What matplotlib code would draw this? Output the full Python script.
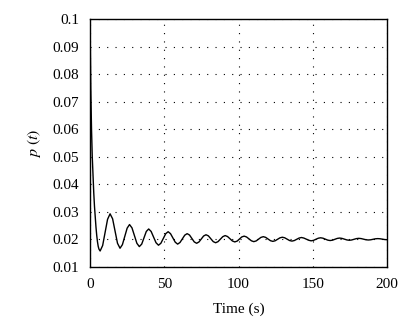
import matplotlib
matplotlib.use("Agg")
import matplotlib.pyplot as plt

time_s = [
    0.0, 0.5, 1.0, 1.5, 2.0, 2.5, 3.0, 3.5, 4.0, 4.5, 5.0, 5.5, 6.0, 6.8,
    8.5, 10.15, 11.8, 13.5,
    15.2, 16.85, 18.5, 20.2,
    21.8, 23.4, 25.0, 26.6,
    28.25, 29.9, 31.55, 33.2,
    34.8, 36.35, 37.9, 39.5,
    41.15, 42.8, 44.45, 46.1,
    47.7, 49.35, 51.0, 52.6,
    54.2, 55.8, 57.4, 59.0,
    60.6, 62.2, 63.8, 65.4,
    67.0, 68.6, 70.2, 71.8,
    73.4, 74.95, 76.5, 78.1,
    79.7, 81.35, 83.0, 84.6,
    86.2, 87.8, 89.4, 91.0,
    92.6, 94.25, 95.9, 97.5,
    99.1, 100.65, 102.2, 103.8,
    105.4, 107.05, 108.7, 110.3,
    111.9, 113.5, 115.1, 116.7,
    118.3, 119.9, 121.5, 123.1,
    124.7, 126.3, 127.9, 129.5,
    131.1, 132.75, 134.4, 136.0,
    137.6, 139.2, 140.8, 142.4,
    144.0, 145.65, 147.3, 148.9,
    150.5, 152.1, 153.7, 155.3,
    156.9, 158.5, 160.1, 161.7,
    163.3, 164.9, 166.5, 168.1,
    169.7, 171.35, 173.0, 174.6,
    176.2, 177.8, 179.4, 181.0,
    182.6, 184.2, 185.8, 187.4,
    189.0, 190.6, 192.2, 193.8,
    195.35, 196.9, 198.45, 200.0,
]

p_values = [
    0.1, 0.075, 0.060, 0.050, 0.043, 0.037, 0.032, 0.028, 0.0245, 0.0215, 0.0192, 0.0175, 0.0165, 0.0158,
    0.0178, 0.02255, 0.0273, 0.0293,
    0.0275, 0.02305, 0.0186, 0.0168,
    0.0181, 0.0211, 0.0241, 0.0254,
    0.0242, 0.0214, 0.0186, 0.0174,
    0.0183, 0.0206, 0.0229, 0.0238,
    0.0229, 0.02085, 0.0188, 0.0179,
    0.0186, 0.02035, 0.0221, 0.0228,
    0.0221, 0.02055, 0.0190, 0.0183,
    0.0189, 0.0202, 0.02155, 0.0221,
    0.0216, 0.02035, 0.0191, 0.0186,
    0.0191, 0.02015, 0.02125, 0.0217,
    0.0213, 0.02025, 0.0192, 0.0188,
    0.0192, 0.0201, 0.0210, 0.0214,
    0.02106, 0.02025, 0.01944, 0.0191,
    0.0194, 0.02015, 0.0209, 0.0212,
    0.0209, 0.0202, 0.0195, 0.0192,
    0.01946, 0.0201, 0.02074, 0.0210,
    0.02075, 0.02015, 0.01955, 0.0193,
    0.01952, 0.02005, 0.02058, 0.0208,
    0.0206, 0.0201, 0.0196, 0.0194,
    0.0196, 0.02005, 0.0205, 0.0207,
    0.0205, 0.0201, 0.0197, 0.0195,
    0.01966, 0.02005, 0.02044, 0.0206,
    0.02045, 0.0201, 0.01975, 0.0196,
    0.01973, 0.02005, 0.02037, 0.0205,
    0.02038, 0.0201, 0.01982, 0.0197,
    0.0198, 0.02005, 0.0203, 0.0204,
    0.02031, 0.0201, 0.01989, 0.0198,
    0.01987, 0.02005, 0.02023, 0.0203,
    0.02024, 0.0201, 0.01996, 0.0199,
]

x_ticks = [0, 50, 100, 150, 200]
y_ticks = [0.01, 0.02, 0.03, 0.04, 0.05, 0.06, 0.07, 0.08, 0.09, 0.1]
y_tick_labels = ["0.01", "0.02", "0.03", "0.04", "0.05", "0.06", "0.07", "0.08", "0.09", "0.1"]

plt.rcParams["font.family"] = ["Liberation Serif", "DejaVu Serif"]
plt.rcParams["mathtext.fontset"] = "stix"

fig = plt.figure(figsize=(4.13, 3.24), dpi=100)
ax = fig.add_axes([0.218, 0.176, 0.719, 0.765])

ax.plot(time_s, p_values, color="black", linewidth=1.0)

ax.set_xlim(0, 200)
ax.set_ylim(0.01, 0.1)
ax.set_xticks(x_ticks)
ax.set_xticklabels([str(v) for v in x_ticks])
ax.set_yticks(y_ticks)
ax.set_yticklabels(y_tick_labels)

ax.grid(True, color="black", linestyle=(0, (1, 6.5)), linewidth=0.8)
ax.tick_params(direction="in", length=0, labelsize=11, pad=8)
for s in ax.spines.values():
    s.set_linewidth(1.0)

ax.set_xlabel("Time (s)", fontsize=11, labelpad=8)
ax.set_ylabel(r"$p\ (t)$", fontsize=11.5, labelpad=7)

fig.savefig("out.png", dpi=100)
